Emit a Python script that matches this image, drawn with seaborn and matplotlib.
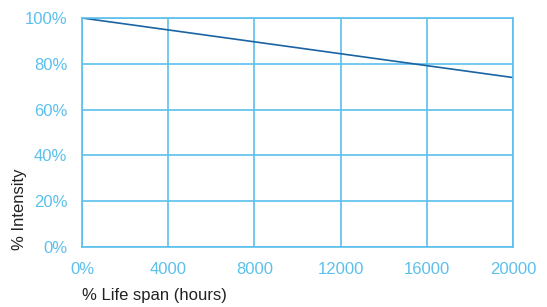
import matplotlib
matplotlib.use('Agg')
import matplotlib.pyplot as plt
import seaborn as sns
import pandas as pd
from matplotlib.ticker import FuncFormatter

# data
hours = [0, 4000, 8000, 12000, 16000, 20000]
intensity = [100, 94.8, 89.6, 84.4, 79.2, 74.0]
x_ticks = [0, 4000, 8000, 12000, 16000, 20000]
x_tick_labels = ['0%', '4000', '8000', '12000', '16000', '20000']
y_ticks = [0, 20, 40, 60, 80, 100]

grid_col = '#5cc0ec'
line_col = '#1a64a3'

sns.set_style('white')
plt.rcParams['font.family'] = ['Liberation Sans', 'DejaVu Sans']

df = pd.DataFrame({'hours': hours, 'intensity': intensity})

fig = plt.figure(figsize=(5.47, 3.07), dpi=100)
ax = fig.add_axes([82 / 547, 60 / 307, 431 / 547, 229 / 307])

sns.lineplot(data=df, x='hours', y='intensity', color=line_col, linewidth=1.2, ax=ax)

ax.set_xlim(0, 20000)
ax.set_ylim(0, 100)
ax.set_xticks(x_ticks)
ax.set_xticklabels(x_tick_labels)
ax.set_yticks(y_ticks)
ax.yaxis.set_major_formatter(FuncFormatter(lambda v, p: f'{int(v)}%'))

ax.grid(True, color=grid_col, linewidth=1.2)
for s in ax.spines.values():
    s.set_color(grid_col)
    s.set_linewidth(1.2)

ax.tick_params(axis='both', colors=grid_col, labelcolor=grid_col, labelsize=12,
               length=4.5, width=1.2, direction='out')
ax.tick_params(axis='x', pad=6)
ax.tick_params(axis='y', pad=6)

ax.set_xlabel('% Life span (hours)', fontsize=12, color='#222222', loc='left', labelpad=8)
ax.set_ylabel('% Intensity', fontsize=12, color='#222222', loc='bottom')
ax.yaxis.set_label_coords(-0.128, -0.015)

fig.savefig('out.png', dpi=100)
